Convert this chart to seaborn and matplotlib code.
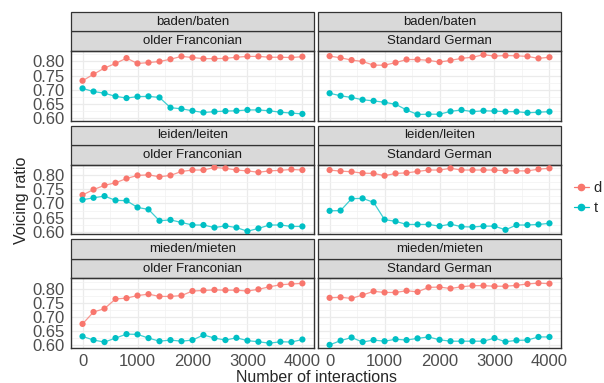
import pandas as pd
import numpy as np
import seaborn as sns
import matplotlib.pyplot as plt
from matplotlib.patches import Rectangle
from matplotlib.lines import Line2D

interactions = list(range(0, 4001, 200))
words = ['baden/baten', 'leiden/leiten', 'mieden/mieten']
varieties = ['older Franconian', 'Standard German']
segments = ['d', 't']

baden_of_d = [0.732, 0.755, 0.777, 0.793, 0.812, 0.793, 0.796, 0.800, 0.808, 0.818, 0.814,
              0.810, 0.810, 0.811, 0.815, 0.818, 0.818, 0.815, 0.815, 0.814, 0.817]
baden_of_t = [0.705, 0.694, 0.688, 0.677, 0.671, 0.676, 0.677, 0.673, 0.637, 0.633, 0.626,
              0.620, 0.623, 0.625, 0.626, 0.629, 0.629, 0.626, 0.621, 0.618, 0.615]
baden_sg_d = [0.819, 0.813, 0.805, 0.800, 0.787, 0.787, 0.796, 0.807, 0.807, 0.804, 0.798,
              0.804, 0.811, 0.815, 0.824, 0.819, 0.821, 0.820, 0.818, 0.811, 0.815]
baden_sg_t = [0.688, 0.679, 0.673, 0.665, 0.661, 0.656, 0.649, 0.629, 0.613, 0.614, 0.614,
              0.624, 0.629, 0.623, 0.626, 0.625, 0.623, 0.623, 0.619, 0.621, 0.623]
leiden_of_d = [0.730, 0.749, 0.764, 0.773, 0.788, 0.799, 0.801, 0.794, 0.799, 0.813, 0.818,
               0.818, 0.827, 0.824, 0.818, 0.815, 0.810, 0.815, 0.817, 0.820, 0.818]
leiden_of_t = [0.713, 0.720, 0.726, 0.711, 0.710, 0.686, 0.679, 0.639, 0.642, 0.633, 0.624,
               0.624, 0.615, 0.621, 0.615, 0.602, 0.612, 0.624, 0.624, 0.619, 0.619]
leiden_sg_d = [0.818, 0.814, 0.812, 0.807, 0.806, 0.798, 0.806, 0.808, 0.813, 0.818, 0.818,
               0.824, 0.818, 0.818, 0.818, 0.818, 0.815, 0.815, 0.815, 0.821, 0.824]
leiden_sg_t = [0.674, 0.675, 0.717, 0.718, 0.704, 0.643, 0.637, 0.626, 0.626, 0.626, 0.620,
               0.627, 0.618, 0.617, 0.620, 0.620, 0.607, 0.624, 0.624, 0.626, 0.630]
mieden_of_d = [0.676, 0.718, 0.730, 0.764, 0.767, 0.776, 0.781, 0.773, 0.773, 0.776, 0.792,
               0.794, 0.796, 0.795, 0.795, 0.792, 0.798, 0.807, 0.814, 0.817, 0.819]
mieden_of_t = [0.632, 0.619, 0.612, 0.626, 0.640, 0.639, 0.626, 0.615, 0.619, 0.615, 0.619,
               0.637, 0.626, 0.619, 0.627, 0.617, 0.613, 0.608, 0.613, 0.612, 0.621]
mieden_sg_d = [0.768, 0.770, 0.766, 0.778, 0.791, 0.787, 0.787, 0.793, 0.789, 0.805, 0.806,
               0.801, 0.807, 0.811, 0.811, 0.809, 0.809, 0.812, 0.817, 0.820, 0.818]
mieden_sg_t = [0.602, 0.617, 0.628, 0.612, 0.619, 0.615, 0.622, 0.619, 0.625, 0.630, 0.620,
               0.615, 0.615, 0.615, 0.615, 0.626, 0.613, 0.618, 0.619, 0.630, 0.630]

series = {
    ('baden/baten', 'older Franconian'): (baden_of_d, baden_of_t),
    ('baden/baten', 'Standard German'): (baden_sg_d, baden_sg_t),
    ('leiden/leiten', 'older Franconian'): (leiden_of_d, leiden_of_t),
    ('leiden/leiten', 'Standard German'): (leiden_sg_d, leiden_sg_t),
    ('mieden/mieten', 'older Franconian'): (mieden_of_d, mieden_of_t),
    ('mieden/mieten', 'Standard German'): (mieden_sg_d, mieden_sg_t),
}

rows = []
for (w, v), (d_vals, t_vals) in series.items():
    for seg, vals in zip(segments, (d_vals, t_vals)):
        for x, y in zip(interactions, vals):
            rows.append({'word': w, 'variety': v, 'segment': seg, 'interactions': x, 'ratio': y})
df = pd.DataFrame(rows)

pal = {'d': '#F8766D', 't': '#00BFC4'}

sns.set_style('white')
plt.rcParams['font.family'] = ['Liberation Sans', 'DejaVu Sans']

g = sns.FacetGrid(df, row='word', col='variety', row_order=words, col_order=varieties,
                  sharex=True, sharey=True, height=1.2, aspect=2)
g.map_dataframe(sns.lineplot, x='interactions', y='ratio', hue='segment', palette=pal,
                linewidth=0.9, alpha=0.75)
g.map_dataframe(sns.scatterplot, x='interactions', y='ratio', hue='segment', palette=pal,
                s=20, linewidth=0, zorder=3)
g.set_titles('')
g.set_axis_labels('', '')

fig = g.figure
fig.set_size_inches(6.04, 3.83)
fig.subplots_adjust(left=71/604, right=561/604, top=1-51/383, bottom=1-348/383,
                    hspace=0.63, wspace=0.017)

strip_h = 0.28
for i, w in enumerate(words):
    for j, v in enumerate(varieties):
        ax = g.axes[i, j]
        ax.set_xlim(-210, 4210)
        ax.set_ylim(0.591, 0.837)
        ax.set_xticks([0, 1000, 2000, 3000, 4000])
        ax.set_xticks([500, 1500, 2500, 3500], minor=True)
        ax.set_yticks([0.60, 0.65, 0.70, 0.75, 0.80])
        ax.set_yticks([0.625, 0.675, 0.725, 0.775, 0.825], minor=True)
        ax.grid(which='major', color='#EBEBEB', linewidth=0.9)
        ax.grid(which='minor', color='#F2F2F2', linewidth=0.5)
        ax.set_axisbelow(True)
        for s in ax.spines.values():
            s.set_visible(True)
            s.set_color('#333333')
            s.set_linewidth(1.0)
        ax.tick_params(axis='both', which='major', length=3, width=0.8, color='#333333',
                       labelsize=12, labelcolor='#4D4D4D', pad=1.5)
        ax.tick_params(axis='both', which='minor', length=0)
        ax.set_yticklabels(['0.60', '0.65', '0.70', '0.75', '0.80'])
        if j == 1:
            ax.tick_params(axis='y', labelleft=False)
        if i < 2:
            ax.tick_params(axis='x', labelbottom=False)
        if ax.get_legend() is not None:
            ax.get_legend().remove()
        for k, label in enumerate([v, w]):
            y0 = 1 + k * strip_h
            ax.add_patch(Rectangle((0, y0), 1, strip_h, transform=ax.transAxes, clip_on=False,
                                   facecolor='#D9D9D9', edgecolor='#333333', linewidth=0.9))
            ax.text(0.5, y0 + strip_h / 2, label, transform=ax.transAxes, ha='center',
                    va='center', fontsize=9.5, color='#1A1A1A')

fig.text(316/604, 1-377/383, 'Number of interactions', ha='center', va='center', fontsize=11.5)
fig.text(22/604, 1-200/383, 'Voicing ratio', ha='center', va='center', rotation=90, fontsize=11.5)

handles = [Line2D([0], [0], color=pal[s], marker='o', markersize=4.5, linewidth=0.9) for s in segments]
fig.legend(handles, segments, loc='center left', bbox_to_anchor=(574/604, 1-198/383),
           frameon=False, fontsize=10.5, handlelength=1.0, handletextpad=0.35, labelspacing=0.4,
           borderpad=0, borderaxespad=0)

fig.savefig('out.png', dpi=100)
